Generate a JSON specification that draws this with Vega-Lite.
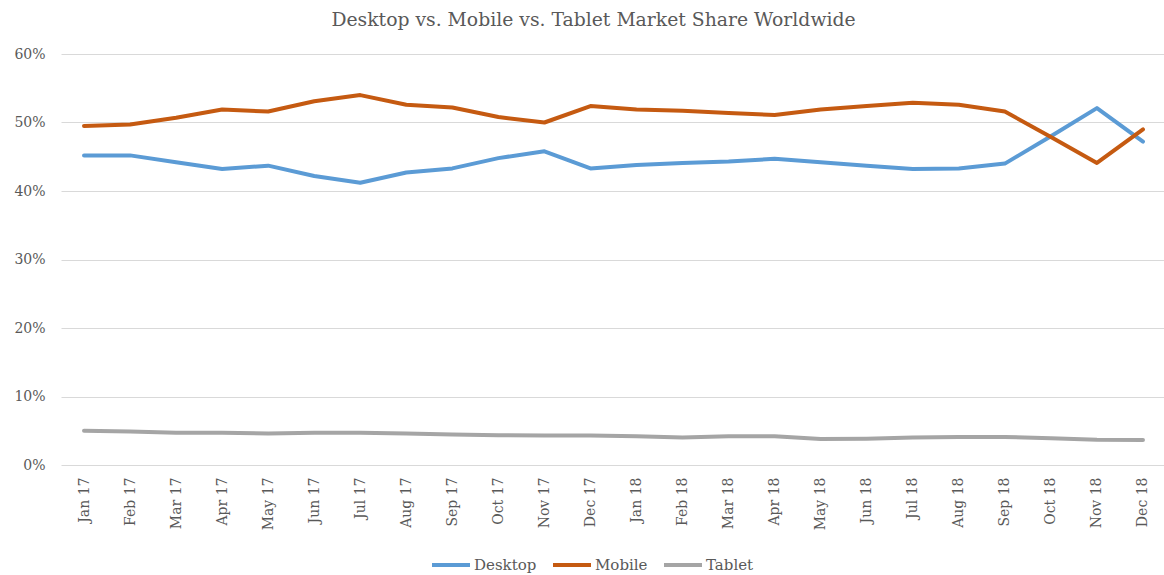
{
  "$schema": "https://vega.github.io/schema/vega-lite/v6.json",
  "width": 1105,
  "height": 411,
  "autosize": {"type": "none"},
  "padding": {"left": 61, "top": 54, "right": 0, "bottom": 110},
  "background": "white",
  "config": {
    "view": {"stroke": null},
    "font": "DejaVu Serif"
  },
  "title": {
    "text": "Desktop vs. Mobile vs. Tablet Market Share Worldwide",
    "font": "DejaVu Serif",
    "fontSize": 18.8,
    "fontWeight": "normal",
    "color": "#595959",
    "anchor": "middle",
    "baseline": "alphabetic",
    "offset": 2,
    "dx": -20
  },
  "data": {
    "values": [
      {"month": "Jan 17", "device": "Desktop", "share": 45.2},
      {"month": "Feb 17", "device": "Desktop", "share": 45.2},
      {"month": "Mar 17", "device": "Desktop", "share": 44.2},
      {"month": "Apr 17", "device": "Desktop", "share": 43.2},
      {"month": "May 17", "device": "Desktop", "share": 43.7},
      {"month": "Jun 17", "device": "Desktop", "share": 42.2},
      {"month": "Jul 17", "device": "Desktop", "share": 41.2},
      {"month": "Aug 17", "device": "Desktop", "share": 42.7},
      {"month": "Sep 17", "device": "Desktop", "share": 43.3},
      {"month": "Oct 17", "device": "Desktop", "share": 44.8},
      {"month": "Nov 17", "device": "Desktop", "share": 45.8},
      {"month": "Dec 17", "device": "Desktop", "share": 43.3},
      {"month": "Jan 18", "device": "Desktop", "share": 43.8},
      {"month": "Feb 18", "device": "Desktop", "share": 44.1},
      {"month": "Mar 18", "device": "Desktop", "share": 44.3},
      {"month": "Apr 18", "device": "Desktop", "share": 44.7},
      {"month": "May 18", "device": "Desktop", "share": 44.2},
      {"month": "Jun 18", "device": "Desktop", "share": 43.7},
      {"month": "Jul 18", "device": "Desktop", "share": 43.2},
      {"month": "Aug 18", "device": "Desktop", "share": 43.3},
      {"month": "Sep 18", "device": "Desktop", "share": 44.0},
      {"month": "Oct 18", "device": "Desktop", "share": 48.0},
      {"month": "Nov 18", "device": "Desktop", "share": 52.1},
      {"month": "Dec 18", "device": "Desktop", "share": 47.2},
      {"month": "Jan 17", "device": "Mobile", "share": 49.5},
      {"month": "Feb 17", "device": "Mobile", "share": 49.7},
      {"month": "Mar 17", "device": "Mobile", "share": 50.7},
      {"month": "Apr 17", "device": "Mobile", "share": 51.9},
      {"month": "May 17", "device": "Mobile", "share": 51.6},
      {"month": "Jun 17", "device": "Mobile", "share": 53.1},
      {"month": "Jul 17", "device": "Mobile", "share": 54.0},
      {"month": "Aug 17", "device": "Mobile", "share": 52.6},
      {"month": "Sep 17", "device": "Mobile", "share": 52.2},
      {"month": "Oct 17", "device": "Mobile", "share": 50.8},
      {"month": "Nov 17", "device": "Mobile", "share": 50.0},
      {"month": "Dec 17", "device": "Mobile", "share": 52.4},
      {"month": "Jan 18", "device": "Mobile", "share": 51.9},
      {"month": "Feb 18", "device": "Mobile", "share": 51.7},
      {"month": "Mar 18", "device": "Mobile", "share": 51.4},
      {"month": "Apr 18", "device": "Mobile", "share": 51.1},
      {"month": "May 18", "device": "Mobile", "share": 51.9},
      {"month": "Jun 18", "device": "Mobile", "share": 52.4},
      {"month": "Jul 18", "device": "Mobile", "share": 52.9},
      {"month": "Aug 18", "device": "Mobile", "share": 52.6},
      {"month": "Sep 18", "device": "Mobile", "share": 51.6},
      {"month": "Oct 18", "device": "Mobile", "share": 47.9},
      {"month": "Nov 18", "device": "Mobile", "share": 44.1},
      {"month": "Dec 18", "device": "Mobile", "share": 49.0},
      {"month": "Jan 17", "device": "Tablet", "share": 5.0},
      {"month": "Feb 17", "device": "Tablet", "share": 4.9},
      {"month": "Mar 17", "device": "Tablet", "share": 4.7},
      {"month": "Apr 17", "device": "Tablet", "share": 4.7},
      {"month": "May 17", "device": "Tablet", "share": 4.6},
      {"month": "Jun 17", "device": "Tablet", "share": 4.7},
      {"month": "Jul 17", "device": "Tablet", "share": 4.7},
      {"month": "Aug 17", "device": "Tablet", "share": 4.6},
      {"month": "Sep 17", "device": "Tablet", "share": 4.45},
      {"month": "Oct 17", "device": "Tablet", "share": 4.35},
      {"month": "Nov 17", "device": "Tablet", "share": 4.3},
      {"month": "Dec 17", "device": "Tablet", "share": 4.3},
      {"month": "Jan 18", "device": "Tablet", "share": 4.2},
      {"month": "Feb 18", "device": "Tablet", "share": 4.0},
      {"month": "Mar 18", "device": "Tablet", "share": 4.2},
      {"month": "Apr 18", "device": "Tablet", "share": 4.2},
      {"month": "May 18", "device": "Tablet", "share": 3.8},
      {"month": "Jun 18", "device": "Tablet", "share": 3.85},
      {"month": "Jul 18", "device": "Tablet", "share": 4.0},
      {"month": "Aug 18", "device": "Tablet", "share": 4.1},
      {"month": "Sep 18", "device": "Tablet", "share": 4.1},
      {"month": "Oct 18", "device": "Tablet", "share": 3.9},
      {"month": "Nov 18", "device": "Tablet", "share": 3.7},
      {"month": "Dec 18", "device": "Tablet", "share": 3.65}
    ]
  },
  "mark": {"type": "line", "strokeWidth": 4, "strokeCap": "round", "strokeJoin": "round"},
  "encoding": {
    "x": {
      "field": "month",
      "type": "ordinal",
      "sort": null,
      "scale": {"type": "point", "padding": 0.5},
      "axis": {
        "title": null,
        "labelAngle": -90,
        "labelAlign": "right",
        "labelBaseline": "middle",
        "labelPadding": 12,
        "labelFont": "DejaVu Serif",
        "labelFontSize": 14,
        "labelColor": "#595959",
        "ticks": false,
        "domain": false,
        "grid": false
      }
    },
    "y": {
      "field": "share",
      "type": "quantitative",
      "scale": {"domain": [0, 60], "nice": false},
      "axis": {
        "title": null,
        "values": [0, 10, 20, 30, 40, 50, 60],
        "labelExpr": "datum.value + '%'",
        "labelFont": "DejaVu Serif",
        "labelFontSize": 14,
        "labelColor": "#595959",
        "labelPadding": 16,
        "ticks": false,
        "domain": false,
        "grid": true,
        "gridColor": "#D9D9D9",
        "gridWidth": 1
      }
    },
    "color": {
      "field": "device",
      "type": "nominal",
      "scale": {"domain": ["Desktop", "Mobile", "Tablet"], "range": ["#5B9BD5", "#C55A11", "#A5A5A5"]},
      "legend": {
        "title": null,
        "orient": "none",
        "direction": "horizontal",
        "legendX": 369,
        "legendY": 490,
        "symbolType": "stroke",
        "symbolSize": 1444,
        "symbolStrokeWidth": 4,
        "labelFont": "DejaVu Serif",
        "labelFontSize": 15,
        "labelColor": "#595959",
        "labelOffset": 2,
        "columnPadding": 8
      }
    }
  }
}
